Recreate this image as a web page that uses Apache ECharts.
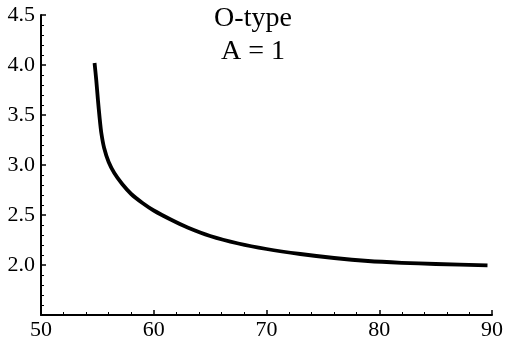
<!DOCTYPE html>
<html>
<head>
<meta charset="utf-8">
<script src="https://cdn.jsdelivr.net/npm/echarts@6/dist/echarts.min.js"></script>
<style>html,body{margin:0;padding:0;background:#fff}#c{width:509px;height:343px}</style>
</head>
<body>
<div id="c"></div>
<script>
var xValues = [54.75, 54.9, 55.05, 55.2, 55.35, 55.6, 56.0, 56.5, 57.2, 58.0, 59.0, 60.0, 61.5, 63.0, 65.0, 67.5, 70.0, 73.0, 76.0, 79.0, 82.0, 85.0, 89.6];
var yValues = [4.02, 3.85, 3.65, 3.47, 3.32, 3.17, 3.03, 2.92, 2.81, 2.71, 2.62, 2.545, 2.455, 2.375, 2.29, 2.215, 2.16, 2.11, 2.07, 2.04, 2.022, 2.01, 1.997];
var titleLines = ['O-type', 'A = 1'];

var chart = echarts.init(document.getElementById('c'), null, {renderer: 'canvas'});
var serif = 'Liberation Serif';
var axisCommon = {
  axisLine: {show: true, onZero: false, lineStyle: {color: '#000', width: 2}},
  axisTick: {show: true, inside: true, length: 5, lineStyle: {color: '#000', width: 1.5}},
  minorTick: {show: true, splitNumber: 5, length: 3, lineStyle: {color: '#000', width: 1}},
  splitLine: {show: false},
  minorSplitLine: {show: false}
};
chart.setOption({
  animation: false,
  backgroundColor: '#fff',
  title: {
    text: titleLines.join('\n'),
    left: 248, top: -3, textAlign: 'center',
    textStyle: {fontFamily: serif, fontSize: 28, fontWeight: 'normal', lineHeight: 33, color: '#000'}
  },
  grid: {left: 41, right: 17, top: 15, bottom: 28, containLabel: false},
  xAxis: Object.assign({
    type: 'value', min: 50, max: 90, interval: 10,
    axisLabel: {color: '#000', fontFamily: serif, fontSize: 22, margin: 4}
  }, axisCommon),
  yAxis: Object.assign({
    type: 'value', min: 1.5, max: 4.5, interval: 0.5,
    axisLabel: {color: '#000', fontFamily: serif, fontSize: 22, margin: 6, showMinLabel: false,
      formatter: function (v) { return v.toFixed(1); }}
  }, axisCommon),
  series: [{
    type: 'line',
    data: xValues.map(function (x, i) { return [x, yValues[i]]; }),
    showSymbol: false,
    smooth: 0.25,
    lineStyle: {color: '#000', width: 3.8, cap: 'butt', join: 'round'}
  }]
});
</script>
</body>
</html>
